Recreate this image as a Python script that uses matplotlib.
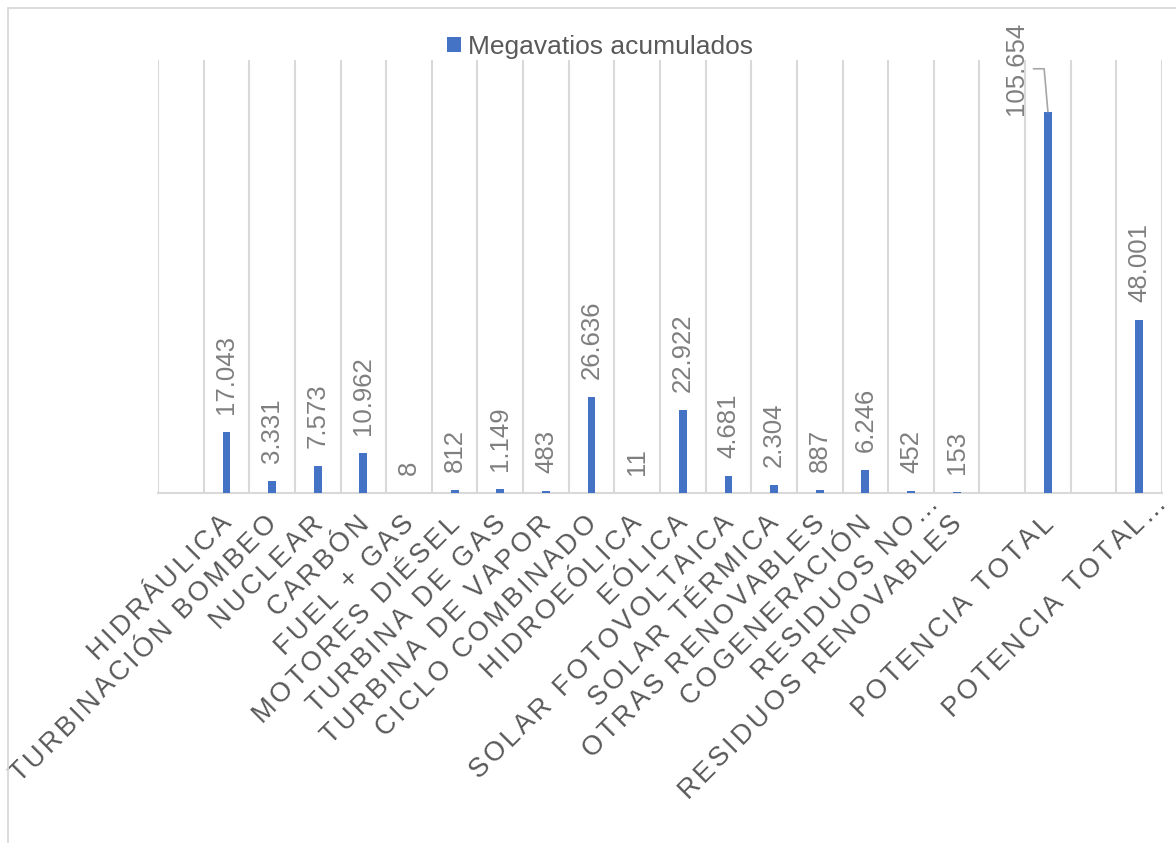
import math

import matplotlib

matplotlib.use("Agg")
import matplotlib.pyplot as plt
import numpy as np
from matplotlib import font_manager
from matplotlib.font_manager import FontProperties
from matplotlib.ft2font import FT2Font
from matplotlib.patches import Rectangle
from matplotlib.transforms import offset_copy

# Installed capacity (MW) by technology; blank slots are empty columns
CATEGORIES = [
    "",
    "HIDRÁULICA",
    "TURBINACIÓN BOMBEO",
    "NUCLEAR",
    "CARBÓN",
    "FUEL + GAS",
    "MOTORES DIÉSEL",
    "TURBINA DE GAS",
    "TURBINA DE VAPOR",
    "CICLO COMBINADO",
    "HIDROEÓLICA",
    "EÓLICA",
    "SOLAR FOTOVOLTAICA",
    "SOLAR TÉRMICA",
    "OTRAS RENOVABLES",
    "COGENERACIÓN",
    "RESIDUOS NO…",
    "RESIDUOS RENOVABLES",
    "",
    "POTENCIA TOTAL",
    "",
    "POTENCIA TOTAL…",
]
MEGAWATTS = [
    np.nan, 17043, 3331, 7573, 10962, 8, 812, 1149, 483, 26636, 11,
    22922, 4681, 2304, 887, 6246, 452, 153, np.nan, 105654, np.nan, 48001,
]
SERIES_NAME = "Megavatios acumulados"

BAR_COLOR = "#4472C4"
GRID_COLOR = "#d9d9d9"
TEXT_COLOR = "#595959"
LABEL_COLOR = "#7f7f7f"
FONT = "Liberation Sans"

DPI = 100
W_PX, H_PX = 1176, 843

plt.rcParams["font.family"] = [FONT, "DejaVu Sans"]

font_path = font_manager.findfont(FontProperties(family=FONT))
ft = FT2Font(font_path)


def char_advances(text, size_pt):
    """Advance width of every character, in points."""
    ft.set_size(size_pt, 72)
    widths = []
    for ch in text:
        glyph = ft.load_char(ord(ch))
        widths.append(glyph.linearHoriAdvance / 65536)
    return widths


def fmt_es(value):
    return f"{int(value):,}".replace(",", ".")


def spaced_label(ax, fig, x, text, size_pt, spacing_px, end_dx, end_dy, angle=45):
    """Rotated tick label with extra letter spacing; its baseline ends near the tick.

    A trailing ellipsis hangs past the anchor, as truncated labels do.
    """
    px_per_pt = DPI / 72
    adv = [a * px_per_pt for a in char_advances(text, size_pt)]
    body = len(text) - 1 if text.endswith("…") else len(text)
    total = sum(adv[:body]) + spacing_px * (body - 1)
    ux, uy = math.cos(math.radians(angle)), math.sin(math.radians(angle))
    pos = -total
    for ch, a in zip(text, adv):
        tr = offset_copy(ax.transData, fig=fig, x=end_dx + pos * ux,
                         y=end_dy + pos * uy, units="dots")
        ax.text(x, 0, ch, transform=tr, rotation=angle, rotation_mode="anchor",
                ha="left", va="baseline", fontsize=size_pt, color=TEXT_COLOR,
                clip_on=False)
        pos += a + spacing_px


fig = plt.figure(figsize=(W_PX / DPI, H_PX / DPI), dpi=DPI)
ax = fig.add_axes([158 / W_PX, 1 - 493 / H_PX, (1162 - 158) / W_PX, (493 - 60) / H_PX])

x = np.arange(len(CATEGORIES))
values = np.array(MEGAWATTS, dtype=float)
has_value = ~np.isnan(values)

bars = ax.bar(x[has_value], values[has_value], width=0.17, color=BAR_COLOR,
              label=SERIES_NAME, zorder=3)

ax.set_xlim(-0.5, len(CATEGORIES) - 0.5)
ax.set_ylim(0, 120000)

# vertical gridlines between categories
ax.set_xticks(np.arange(-0.5, len(CATEGORIES)), minor=True)
ax.set_xticks(x)
ax.set_xticklabels([])
ax.tick_params(axis="x", which="both", length=0)
ax.grid(True, axis="x", which="minor", color=GRID_COLOR, linewidth=1.5, zorder=0)
ax.set_yticks([])
for side in ["top", "left", "right"]:
    ax.spines[side].set_visible(False)
ax.spines["bottom"].set_color(GRID_COLOR)
ax.spines["bottom"].set_linewidth(1.5)

# value labels above each bar
peak = int(np.nanargmax(values))
for xi, v in zip(x[has_value], values[has_value]):
    if xi == peak:
        ax.annotate(
            fmt_es(v), xy=(xi, v), xytext=(-32, 43), textcoords="offset pixels",
            rotation=90, ha="center", va="center", fontsize=18.5, color=LABEL_COLOR,
            arrowprops=dict(arrowstyle="-", color="#a6a6a6", lw=1.2, shrinkA=2,
                            shrinkB=0, relpos=(1, 0.5),
                            connectionstyle="angle,angleA=0,angleB=95,rad=0"),
        )
    else:
        ax.annotate(
            fmt_es(v), xy=(xi, v), xytext=(0, 18), textcoords="offset pixels",
            rotation=90, ha="center", va="bottom", fontsize=18.5, color=LABEL_COLOR,
        )

# category labels
for xi, name in zip(x, CATEGORIES):
    if name:
        spaced_label(ax, fig, xi, name, 19.5, 3.1, end_dx=6, end_dy=-31)

fig.legend(handles=[bars], labels=[SERIES_NAME], loc="center",
           bbox_to_anchor=(600 / W_PX, 1 - 47 / H_PX), frameon=False,
           fontsize=19, handlelength=0.53, handleheight=0.53, handletextpad=0.25,
           labelcolor=TEXT_COLOR)

# chart area border
fig.patches.append(Rectangle((8 / W_PX, -0.1), 1.2, 1.1 - 8 / H_PX,
                             transform=fig.transFigure, fill=False,
                             edgecolor=GRID_COLOR, linewidth=1.3))

fig.savefig("out.png", dpi=DPI)
